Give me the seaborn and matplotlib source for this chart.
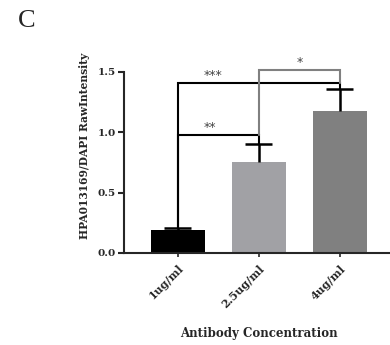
import matplotlib
matplotlib.use("Agg")
import matplotlib.pyplot as plt
import seaborn as sns
import pandas as pd

# Data
concentrations = ["1ug/ml", "2.5ug/ml", "4ug/ml"]
intensity = [0.19, 0.75, 1.18]
sem_upper = [0.02, 0.15, 0.18]
bar_colors = ["#000000", "#a1a1a5", "#808080"]

# Significance comparisons: (left index, right index, bracket height, label, colour, label x)
brackets = [
    (0, 1, 0.98, "**", "black", 0.40),
    (0, 2, 1.41, "***", "black", 0.43),
    (1, 2, 1.52, "*", "#808080", 1.50),
]

sns.set_theme(style="ticks")
plt.rcParams["font.family"] = ["DejaVu Serif"]

df = pd.DataFrame({"conc": concentrations, "val": intensity})

fig = plt.figure(figsize=(3.9, 3.45), dpi=100)
ax = fig.add_axes([124 / 390, 1 - 253 / 345, 1 - 124 / 390, (253 - 72) / 345])

sns.barplot(data=df, x="conc", y="val", hue="conc", palette=bar_colors,
            width=0.67, errorbar=None, legend=False, ax=ax, saturation=1,
            linewidth=0)

# Upward-only error bars with a cap at the top
xs = list(range(len(intensity)))
tops = [v + e for v, e in zip(intensity, sem_upper)]
cap = 0.167
ax.vlines(xs, intensity, tops, color="black", lw=1.8, zorder=3)
ax.hlines(tops, [x - cap for x in xs], [x + cap for x in xs],
          color="black", lw=1.8, zorder=3)

# Significance brackets
for i, j, h, lab, col, lx in brackets:
    if col == "black":
        li, lj = tops[i], tops[j]
    else:
        li, lj = 0.98, 1.41
    ax.plot([i, i, j, j], [li, h, h, lj], color=col, lw=1.5,
            clip_on=False, zorder=4, solid_joinstyle="miter")
    ax.text(lx, h + 0.005, lab, ha="center", va="bottom", fontsize=9,
            color="#444444", clip_on=False, family="DejaVu Sans")

ax.set_xlim(-0.667, 2.62)
ax.set_ylim(0, 1.5)
ax.set_yticks([0.0, 0.5, 1.0, 1.5])
ax.set_yticklabels(["0.0", "0.5", "1.0", "1.5"], fontsize=7.5, fontweight="bold")
ax.set_xticks(xs)
ax.set_xticklabels(concentrations, rotation=45, ha="right",
                   rotation_mode="anchor", fontsize=8, fontweight="bold")
ax.tick_params(axis="y", length=4, width=1.5, pad=2)
ax.tick_params(axis="x", length=3, width=1.2, pad=4)

sns.despine(ax=ax)
ax.spines["left"].set_linewidth(1.5)
ax.spines["bottom"].set_linewidth(1.5)

ax.set_ylabel("HPA013169/DAPI RawIntensity", fontsize=7.7, fontweight="bold",
              va="center")
ax.yaxis.set_label_coords(-0.15, 0.59)
ax.set_xlabel("Antibody Concentration", fontsize=8.5, fontweight="bold",
              va="center")
ax.xaxis.set_label_coords(0.507, -0.442)

fig.text(18 / 390, 1 - 10 / 345, "C", fontsize=19, va="top", ha="left",
         family="Liberation Serif")

fig.savefig("out.png", dpi=100)
